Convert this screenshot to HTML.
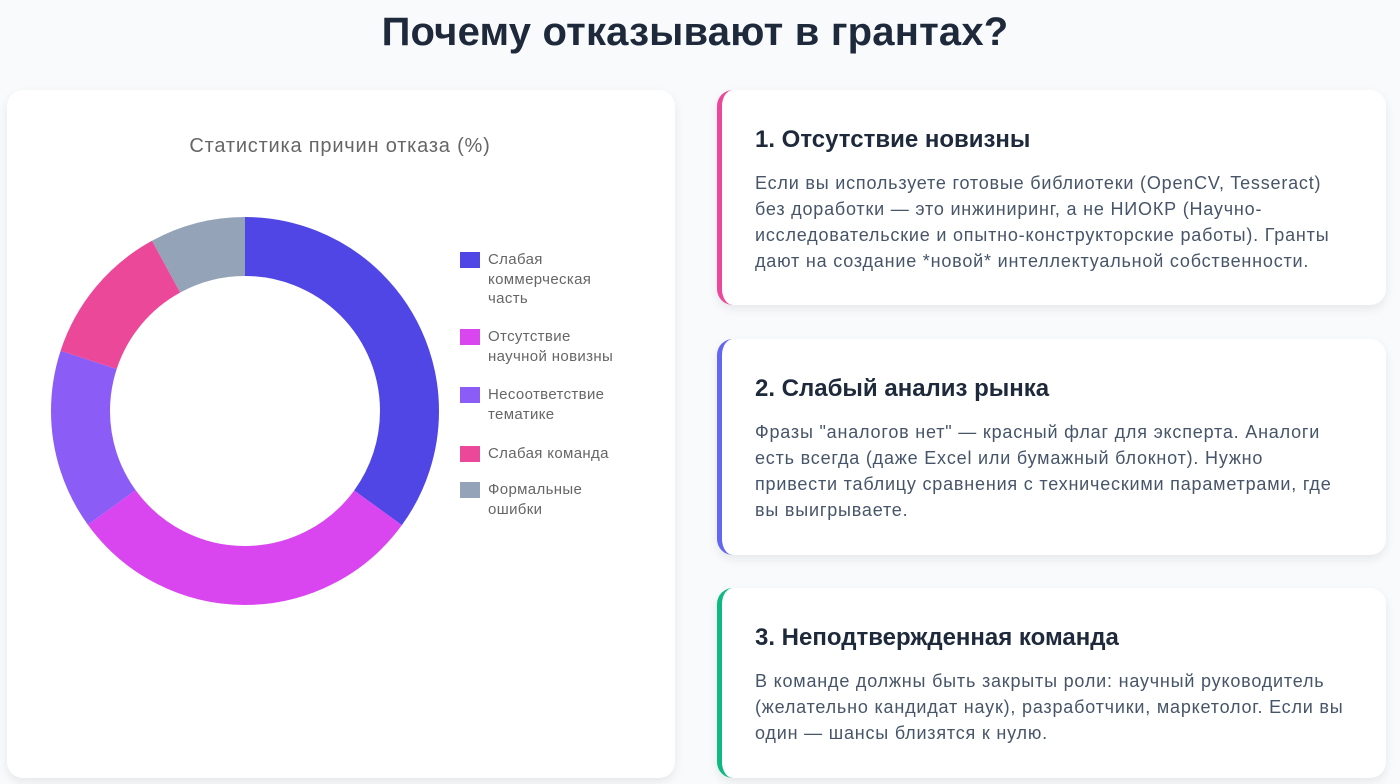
<!DOCTYPE html>
<html><head><meta charset="utf-8"><style>
*{margin:0;padding:0;box-sizing:border-box}
body{width:1400px;height:784px;background:#f8fafc;font-family:"Liberation Sans","DejaVu Sans",sans-serif;position:relative;overflow:hidden}
h1{position:absolute;top:10px;left:0;width:1390px;text-align:center;font-size:40px;font-weight:bold;color:#1e293b;letter-spacing:0.2px}
.left{position:absolute;left:7px;top:90px;width:668px;height:688px;background:#fff;border-radius:16px;box-shadow:0 4px 10px rgba(0,0,0,0.08)}
.ct{position:absolute;left:0;top:135px;width:680px;text-align:center;font-size:20px;color:#666;letter-spacing:0.8px}
.lg{position:absolute;left:460px;font-size:15px;color:#666;line-height:19.5px;letter-spacing:0.35px}
.lg i{position:absolute;left:0;top:2px;width:20px;height:16px}
.lg span{position:absolute;left:28px;top:0;white-space:nowrap}
.card{position:absolute;left:717px;width:669px;background:#fff;border-radius:16px;border-left:5px solid;box-shadow:0 4px 10px rgba(0,0,0,0.08)}
.card h2{position:absolute;left:33px;font-size:24px;font-weight:bold;color:#1e293b;white-space:nowrap}
.card p{position:absolute;left:33px;font-size:18px;line-height:26px;color:#475569;white-space:nowrap;letter-spacing:0.8px}
</style></head><body>
<h1>Почему отказывают в грантах?</h1>
<div class="left"></div>
<div class="ct">Статистика причин отказа (%)</div>
<svg style="position:absolute;left:0;top:0" width="700" height="784">
<g transform="translate(245,411) rotate(-90)" fill="none" stroke-width="59">
<circle r="164.5" stroke="#4f46e5" stroke-dasharray="361.76 1033.6" stroke-dashoffset="0"/>
<circle r="164.5" stroke="#d946ef" stroke-dasharray="310.08 1033.6" stroke-dashoffset="-361.76"/>
<circle r="164.5" stroke="#8b5cf6" stroke-dasharray="155.04 1033.6" stroke-dashoffset="-671.84"/>
<circle r="164.5" stroke="#ec4899" stroke-dasharray="124.03 1033.6" stroke-dashoffset="-826.88"/>
<circle r="164.5" stroke="#94a3b8" stroke-dasharray="82.69 1033.6" stroke-dashoffset="-950.91"/>
</g>
</svg>
<div class="lg" style="top:250px"><i style="background:#4f46e5"></i><span>Слабая<br>коммерческая<br>часть</span></div>
<div class="lg" style="top:327px"><i style="background:#d946ef"></i><span>Отсутствие<br>научной новизны</span></div>
<div class="lg" style="top:385px"><i style="background:#8b5cf6"></i><span>Несоответствие<br>тематике</span></div>
<div class="lg" style="top:444px"><i style="background:#ec4899"></i><span>Слабая команда</span></div>
<div class="lg" style="top:480px"><i style="background:#94a3b8"></i><span>Формальные<br>ошибки</span></div>

<div class="card" style="top:90px;height:215px;border-color:#ec4899">
<h2 style="top:36px">1. Отсутствие новизны</h2>
<p style="top:80px">Если вы используете готовые библиотеки (OpenCV, Tesseract)<br>без доработки — это инжиниринг, а не НИОКР (Научно-<br>исследовательские и опытно-конструкторские работы). Гранты<br>дают на создание *новой* интеллектуальной собственности.</p>
</div>
<div class="card" style="top:339px;height:216px;border-color:#6366f1">
<h2 style="top:36px">2. Слабый анализ рынка</h2>
<p style="top:80px">Фразы "аналогов нет" — красный флаг для эксперта. Аналоги<br>есть всегда (даже Excel или бумажный блокнот). Нужно<br>привести таблицу сравнения с техническими параметрами, где<br>вы выигрываете.</p>
</div>
<div class="card" style="top:588px;height:190px;border-color:#10b981">
<h2 style="top:36px">3. Неподтвержденная команда</h2>
<p style="top:80px">В команде должны быть закрыты роли: научный руководитель<br>(желательно кандидат наук), разработчики, маркетолог. Если вы<br>один — шансы близятся к нулю.</p>
</div>
</body></html>
